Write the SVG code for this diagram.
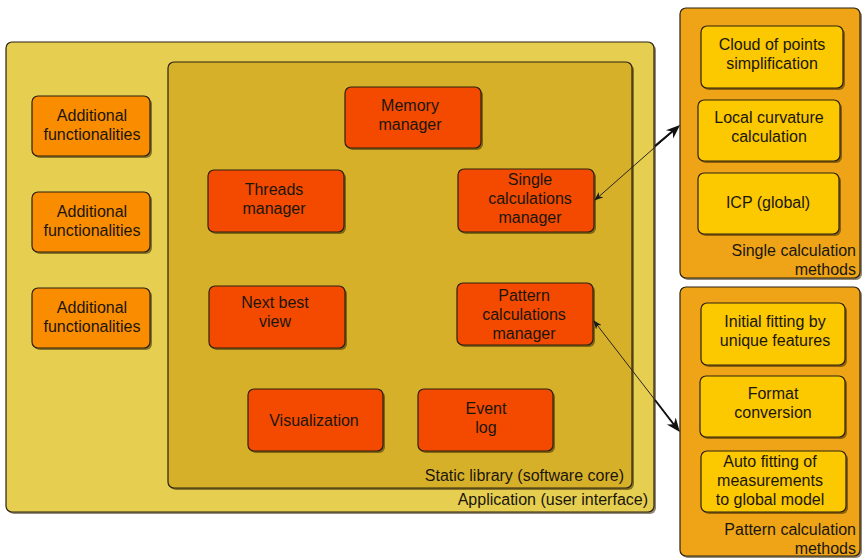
<svg xmlns="http://www.w3.org/2000/svg" width="862" height="558" viewBox="0 0 862 558">
  <defs>
    <style>
      text { font-family: "Liberation Sans", Arial, sans-serif; font-size: 16px; fill: #1a160c; text-anchor: middle; }
      .lbl { text-anchor: end; }
      .box { stroke: #2a2010; stroke-width: 1.2; }
      .shadow { fill: #3a2a00; opacity: 0.55; }
      .app { fill: #E6CE50; }
      .core { fill: #D7B02A; }
      .extra { fill: #FA8C00; }
      .mgr { fill: #F44A00; }
      .methods { fill: #EFA417; }
      .method { fill: #FCC800; }
      .link { stroke: #2a2418; stroke-width: 1; fill: none; }
    </style>
    <marker id="headThin" viewBox="0 0 10 10" refX="9" refY="5" markerWidth="9" markerHeight="9" orient="auto-start-reverse" markerUnits="userSpaceOnUse">
      <path d="M0,1 L10,5 L0,9 L3,5 Z" fill="#1a1a1a"/>
    </marker>
    <marker id="headBold" viewBox="0 0 10 10" refX="9" refY="5" markerWidth="14" markerHeight="14" orient="auto" markerUnits="userSpaceOnUse">
      <path d="M0,1 L10,5 L0,9 L3,5 Z" fill="#111"/>
    </marker>
  </defs>

  <!-- Application container -->
  <g id="application">
    <rect class="shadow" x="8" y="44" width="648" height="470" rx="6"/>
    <rect class="app box" x="6" y="42" width="648" height="470" rx="6"/>
    <text class="lbl" x="648" y="505">Application (user interface)</text>
  </g>

  <!-- Static library container -->
  <g id="static-library">
    <rect class="shadow" x="170" y="64" width="464" height="426" rx="6"/>
    <rect class="core box" x="168" y="62" width="464" height="426" rx="6"/>
    <text class="lbl" x="624" y="481">Static library (software core)</text>
  </g>

  <!-- Additional functionalities -->
  <g id="extra-1">
    <rect class="shadow" x="34" y="98" width="118" height="60" rx="6"/>
    <rect class="extra box" x="32" y="96" width="118" height="60" rx="6"/>
    <text x="92" y="121">Additional</text>
    <text x="92" y="140">functionalities</text>
  </g>
  <g id="extra-2">
    <rect class="shadow" x="34" y="194" width="118" height="60" rx="6"/>
    <rect class="extra box" x="32" y="192" width="118" height="60" rx="6"/>
    <text x="92" y="217">Additional</text>
    <text x="92" y="236">functionalities</text>
  </g>
  <g id="extra-3">
    <rect class="shadow" x="34" y="290" width="118" height="60" rx="6"/>
    <rect class="extra box" x="32" y="288" width="118" height="60" rx="6"/>
    <text x="92" y="313">Additional</text>
    <text x="92" y="332">functionalities</text>
  </g>

  <!-- Core managers -->
  <g id="memory-manager">
    <rect class="shadow" x="347" y="89" width="136" height="61" rx="6"/>
    <rect class="mgr box" x="345" y="87" width="136" height="61" rx="6"/>
    <text x="410" y="111">Memory</text>
    <text x="410" y="130">manager</text>
  </g>
  <g id="threads-manager">
    <rect class="shadow" x="210" y="172" width="136" height="62" rx="6"/>
    <rect class="mgr box" x="208" y="170" width="136" height="62" rx="6"/>
    <text x="274" y="195">Threads</text>
    <text x="274" y="214">manager</text>
  </g>
  <g id="single-manager">
    <rect class="shadow" x="460" y="171" width="136" height="63" rx="6"/>
    <rect class="mgr box" x="458" y="169" width="136" height="63" rx="6"/>
    <text x="530" y="185">Single</text>
    <text x="530" y="204">calculations</text>
    <text x="530" y="223">manager</text>
  </g>
  <g id="next-best-view">
    <rect class="shadow" x="211" y="288" width="136" height="62" rx="6"/>
    <rect class="mgr box" x="209" y="286" width="136" height="62" rx="6"/>
    <text x="275" y="308">Next best</text>
    <text x="275" y="327">view</text>
  </g>
  <g id="pattern-manager">
    <rect class="shadow" x="459" y="285" width="136" height="62" rx="6"/>
    <rect class="mgr box" x="457" y="283" width="136" height="62" rx="6"/>
    <text x="524" y="301">Pattern</text>
    <text x="524" y="320">calculations</text>
    <text x="524" y="339">manager</text>
  </g>
  <g id="visualization">
    <rect class="shadow" x="250" y="391" width="135" height="62" rx="6"/>
    <rect class="mgr box" x="248" y="389" width="135" height="62" rx="6"/>
    <text x="314" y="426">Visualization</text>
  </g>
  <g id="event-log">
    <rect class="shadow" x="420" y="391" width="135" height="62" rx="6"/>
    <rect class="mgr box" x="418" y="389" width="135" height="62" rx="6"/>
    <text x="486" y="414">Event</text>
    <text x="486" y="433">log</text>
  </g>

  <!-- Single calculation methods -->
  <g id="single-methods">
    <rect class="shadow" x="682" y="10" width="180" height="270" rx="6"/>
    <rect class="methods box" x="680" y="8" width="180" height="270" rx="6"/>
    <text class="lbl" x="856" y="256">Single calculation</text>
    <text class="lbl" x="856" y="275">methods</text>
  </g>
  <g id="cloud-simplification">
    <rect class="shadow" x="703" y="28" width="142" height="62" rx="6"/>
    <rect class="method box" x="701" y="26" width="142" height="62" rx="6"/>
    <text x="772" y="50">Cloud of points</text>
    <text x="772" y="69">simplification</text>
  </g>
  <g id="local-curvature">
    <rect class="shadow" x="700" y="102" width="142" height="61" rx="6"/>
    <rect class="method box" x="698" y="100" width="142" height="61" rx="6"/>
    <text x="769" y="123">Local curvature</text>
    <text x="769" y="142">calculation</text>
  </g>
  <g id="icp-global">
    <rect class="shadow" x="700" y="175" width="141" height="61" rx="6"/>
    <rect class="method box" x="698" y="173" width="141" height="61" rx="6"/>
    <text x="768" y="208">ICP (global)</text>
  </g>

  <!-- Pattern calculation methods -->
  <g id="pattern-methods">
    <rect class="shadow" x="682" y="289" width="180" height="269" rx="6"/>
    <rect class="methods box" x="680" y="287" width="180" height="269" rx="6"/>
    <text class="lbl" x="856" y="535">Pattern calculation</text>
    <text class="lbl" x="856" y="554">methods</text>
  </g>
  <g id="initial-fitting">
    <rect class="shadow" x="703" y="305" width="144" height="62" rx="6"/>
    <rect class="method box" x="701" y="303" width="144" height="62" rx="6"/>
    <text x="775" y="327">Initial fitting by</text>
    <text x="775" y="346">unique features</text>
  </g>
  <g id="format-conversion">
    <rect class="shadow" x="702" y="378" width="145" height="61" rx="6"/>
    <rect class="method box" x="700" y="376" width="145" height="61" rx="6"/>
    <text x="773" y="399">Format</text>
    <text x="773" y="418">conversion</text>
  </g>
  <g id="auto-fitting">
    <rect class="shadow" x="703" y="453" width="145" height="61" rx="6"/>
    <rect class="method box" x="701" y="451" width="145" height="61" rx="6"/>
    <text x="770" y="467">Auto fitting of</text>
    <text x="770" y="486">measurements</text>
    <text x="770" y="505">to global model</text>
  </g>

  <!-- Connectors -->
  <g id="connectors">
    <line class="link" x1="595" y1="200" x2="679" y2="126" marker-start="url(#headThin)" marker-end="url(#headBold)"/>
    <line class="link" x1="594" y1="321" x2="679" y2="431" marker-start="url(#headThin)" marker-end="url(#headBold)"/>
    <line stroke="#111" stroke-width="2" x1="655" y1="146" x2="674" y2="130"/>
    <line stroke="#111" stroke-width="2" x1="655" y1="400" x2="675" y2="426"/>
  </g>
</svg>
